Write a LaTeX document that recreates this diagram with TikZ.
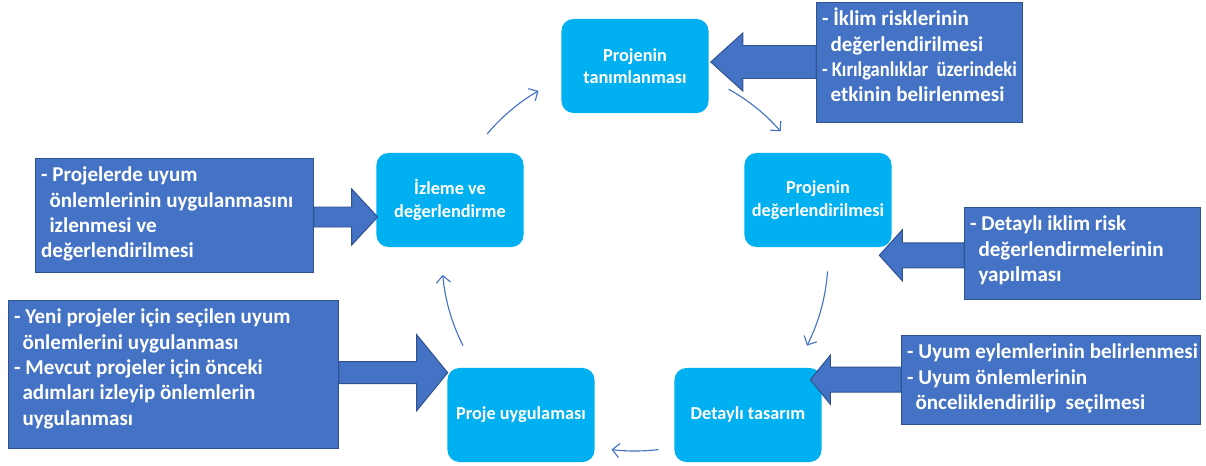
\documentclass[tikz,border=0pt]{standalone}
\usepackage{fontspec}
\setmainfont{Carlito}
\usetikzlibrary{arrows.meta,calc}

\definecolor{stagecyan}{HTML}{00B0F0}
\definecolor{noteblue}{HTML}{4472C4}
\definecolor{noteedge}{HTML}{2F528F}
\definecolor{cycleblue}{HTML}{4472C4}

\newcommand\notetext[3]{\parbox[t][\dimexpr0.025cm*#2-8pt\relax][t]{\dimexpr0.025cm*#1-8pt\relax}{\begin{tabular}[t]{@{}l@{}}#3\end{tabular}}}

\tikzset{
  stage/.style={rectangle, rounded corners=0.3cm, fill=stagecyan, text=white,
    font=\fontsize{13}{16}\selectfont\bfseries, align=center,
    minimum width=3.675cm, minimum height=2.35cm, inner sep=2pt},
  note/.style={rectangle, draw=noteedge, line width=0.7pt, fill=noteblue, text=white,
    font=\fontsize{15}{18}\selectfont\bfseries, anchor=north west, inner sep=4pt},
  fatarrow/.style={draw=noteedge, line width=0.7pt, fill=noteblue},
  fat/.style n args={3}{to path={let \p1=(\tikztostart), \p2=(\tikztotarget) in
    (\p2) -- ({\x2+(#1)*0.025cm},{\y2+(#2)*0.025cm}) -- ({\x2+(#1)*0.025cm},{\y2+(#3)*0.025cm})
    -- ({\x1},{\y2+(#3)*0.025cm}) -- ({\x1},{\y2-(#3)*0.025cm})
    -- ({\x2+(#1)*0.025cm},{\y2-(#3)*0.025cm}) -- ({\x2+(#1)*0.025cm},{\y2-(#2)*0.025cm}) -- cycle}},
  cyc/.style={draw=cycleblue, line width=0.8pt, -{Straight Barb[length=5pt,width=10pt]}}
}

\begin{document}
\begin{tikzpicture}[x=0.025cm, y=-0.025cm]
\useasboundingbox (0,0) rectangle (1206,466);

\node[stage] (tan) at (635,66) {Projenin\\tanımlanması};
\node[stage] (deg) at (818,200) {Projenin\\değerlendirilmesi};
\node[stage] (det) at (748,415) {Detaylı tasarım};
\node[stage] (uyg) at (521,415) {Proje uygulaması};
\node[stage] (izl) at (450,200) {İzleme ve\\değerlendirme};

\node[note] (risk) at (816,2) {\notetext{206}{120}{- İklim risklerinin\\\hspace*{6pt}değerlendirilmesi\\\scalebox{0.88}[1]{- Kırılganlıklar\ \ üzerindeki}\\\hspace*{6pt}etkinin belirlenmesi}};
\node[note] (detrisk) at (964,207) {\notetext{236}{92}{- Detaylı iklim risk\\\hspace*{6pt}değerlendirmelerinin\\\hspace*{6pt}yapılması}};
\node[note] (eylem) at (901,335) {\notetext{299}{89}{- Uyum eylemlerinin belirlenmesi\\- Uyum önlemlerinin\\\hspace*{6pt}önceliklendirilip\ \ seçilmesi}};
\node[note] (uygula) at (8,300) {\notetext{330}{148}{- Yeni projeler için seçilen uyum\\\hspace*{6pt}önlemlerini uygulanması\\- Mevcut projeler için önceki\\\hspace*{6pt}adımları izleyip önlemlerin\\\hspace*{6pt}uygulanması}};
\node[note] (izleme) at (35,158) {\notetext{278}{114}{- Projelerde uyum\\\hspace*{6pt}önlemlerinin uygulanmasını\\\hspace*{6pt}izlenmesi ve\\değerlendirilmesi}};

\draw[fatarrow] (risk.west) to[fat={32}{29}{16.5}] ([shift={(2,-4)}]tan.east);
\draw[fatarrow] (detrisk.west) to[fat={23}{25.5}{12.5}] ([shift={(-12.5,8)}]deg.south east);
\draw[fatarrow] (eylem.west) to[fat={20}{24.5}{12.5}] ([shift={(-11.5,12)}]det.north east);
\draw[fatarrow] (uygula.east) to[fat={-31}{38}{11}] ([shift={(0.5,5)}]uyg.north west);
\draw[fatarrow] (izleme.east) to[fat={-26}{28}{10}] ([shift={(1.5,17)}]izl.west);

\coordinate (cc) at (635,258);
\draw[cyc] ([shift={(220:193)}]cc) arc[start angle=220, end angle=240, radius=193];
\draw[cyc] ([shift={(299:193)}]cc) arc[start angle=299, end angle=319, radius=193];
\draw[cyc] ([shift={(4:193)}]cc) arc[start angle=4, end angle=27, radius=193];
\draw[cyc] ([shift={(83:193)}]cc) arc[start angle=83, end angle=97, radius=193];
\draw[cyc] ([shift={(153:193)}]cc) arc[start angle=153, end angle=175, radius=193];
\end{tikzpicture}
\end{document}
